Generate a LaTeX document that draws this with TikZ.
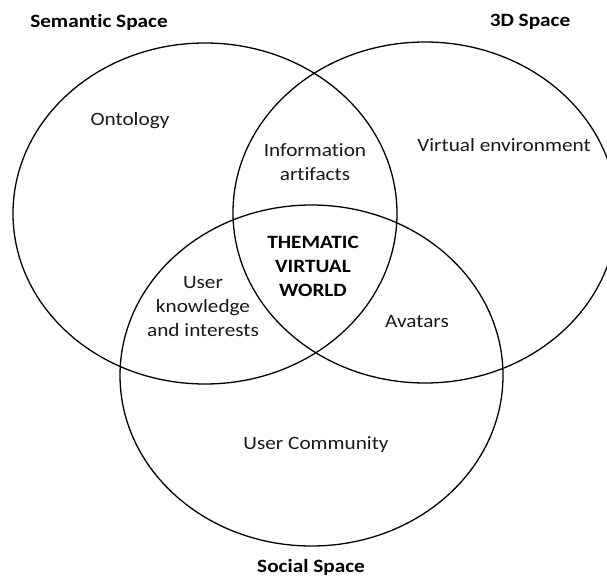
\documentclass[tikz,border=0pt]{standalone}
\usepackage{fontspec}
\setmainfont{Carlito}[FakeStretch=1.13,Ligatures=NoCommon]
\begin{document}
\begin{tikzpicture}[x=1pt,y=-1pt,
  ring/.style={draw=black,line width=1.3pt},
  lbl/.style={font=\fontsize{18.8}{24}\selectfont,align=center,inner sep=0pt,text=black!90},
  title/.style={font=\fontsize{18.8}{24}\selectfont\bfseries,align=center,inner sep=0pt}]
\useasboundingbox (0,0) rectangle (607,578);
\begin{scope}
\clip (0,0) rectangle (607,578);
\draw[ring] (205,213.5) ellipse [x radius=192pt, y radius=170.5pt];
\draw[ring] (425,212.5) ellipse [x radius=192pt, y radius=170.5pt];
\draw[ring] (311.5,375.5) ellipse [x radius=191.5pt, y radius=170.5pt];
\end{scope}
\node[title] (sem) at (99,22) {Semantic Space};
\node[title] (td) at (530,22) {3D Space};
\node[title] (soc) at (311,567.5) {Social Space};
\node[lbl] (ont) at (130,121) {Ontology};
\node[lbl] (info) at (315,162) {Information\\artifacts};
\node[lbl] (venv) at (504,145) {Virtual environment};
\node[title] (tvw) at (313,266) {THEMATIC\\VIRTUAL\\WORLD};
\node[lbl] (uki) at (203,307) {User\\knowledge\\and interests};
\node[lbl] (av) at (417,322) {Avatars};
\node[lbl] (uc) at (316,445) {User Community};
\end{tikzpicture}
\end{document}
